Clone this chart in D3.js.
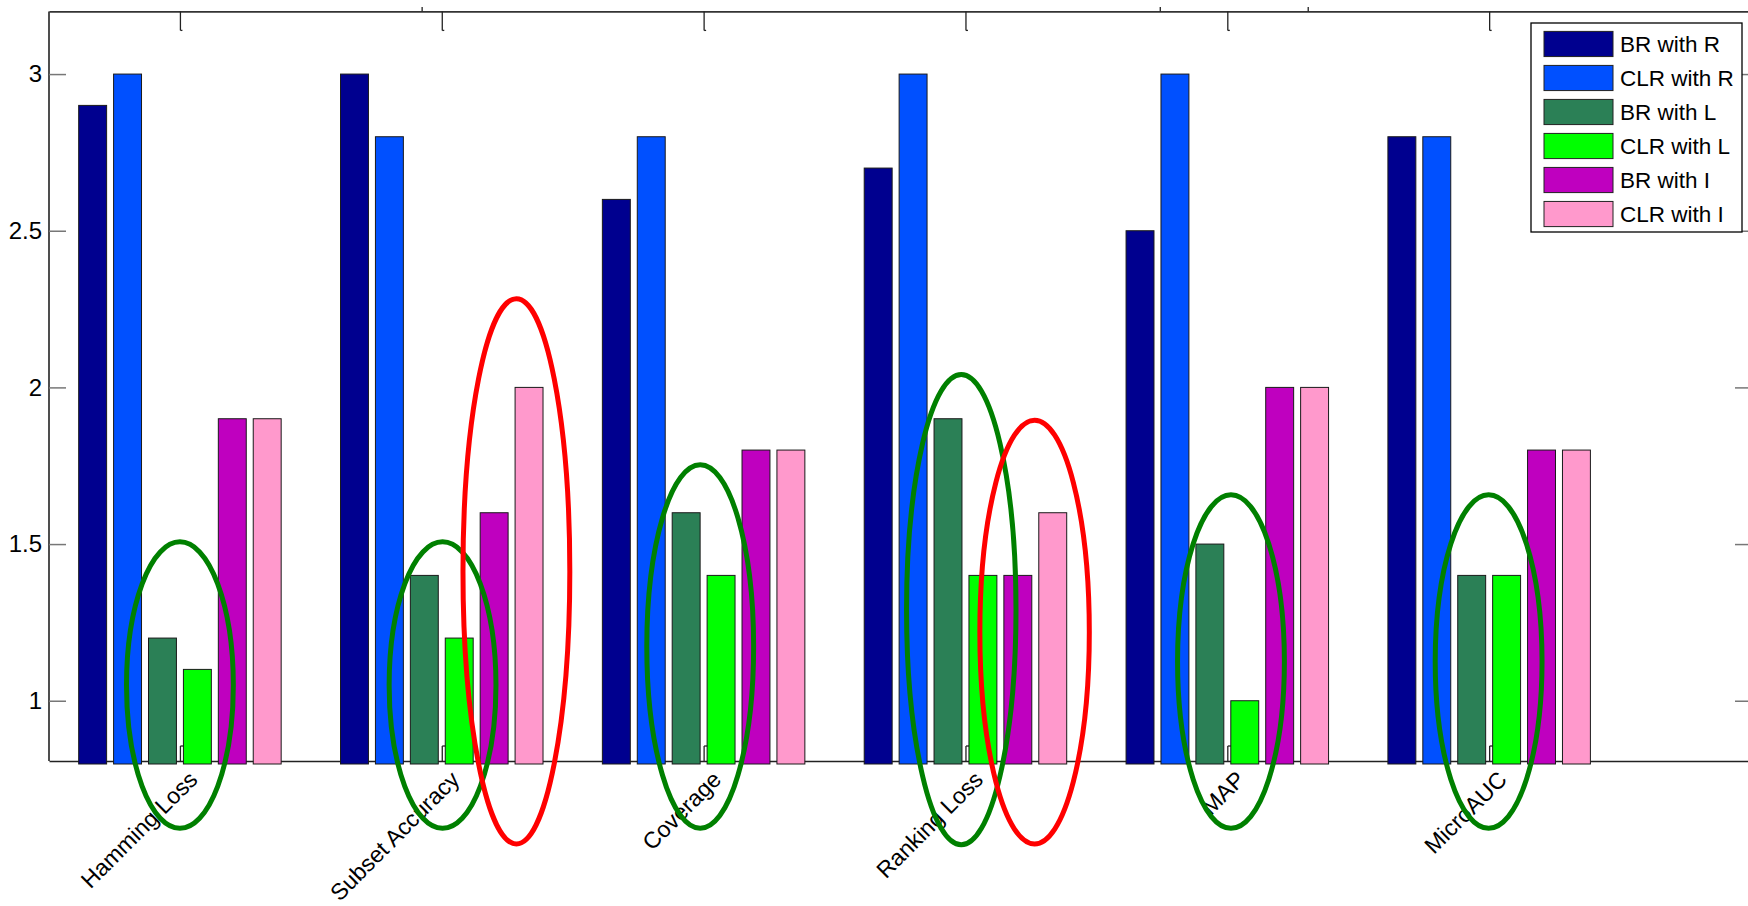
<!DOCTYPE html>
<html>
<head>
<meta charset="utf-8">
<script src="https://cdn.jsdelivr.net/npm/d3@7"></script>
<style>
  body { margin: 0; background: #fff; }
  svg { display: block; font-family: "Liberation Sans", Arial, Helvetica, sans-serif; }
</style>
</head>
<body>
<div id="chart"></div>
<script>
// metric names (x groups)
var categories = ["Hamming Loss", "Subset Accuracy", "Coverage", "Ranking Loss", "MAP", "MicroAUC"];

// series
var seriesNames = ["BR with R", "CLR with R", "BR with L", "CLR with L", "BR with I", "CLR with I"];
var seriesColors = ["#00008f", "#0050ff", "#2b8056", "#00ff00", "#bf00bf", "#ff99cc"];

var brR  = [2.9, 3.0, 2.6, 2.7, 2.5, 2.8];
var clrR = [3.0, 2.8, 2.8, 3.0, 3.0, 2.8];
var brL  = [1.2, 1.4, 1.6, 1.9, 1.5, 1.4];
var clrL = [1.1, 1.2, 1.4, 1.4, 1.0, 1.4];
var brI  = [1.9, 1.6, 1.8, 1.4, 2.0, 1.8];
var clrI = [1.9, 2.0, 1.8, 1.6, 2.0, 1.8];

var yTicks = [1, 1.5, 2, 2.5, 3];

// hand drawn ellipses: centre x, top and bottom in data units, half width in x units
var ringX      = [1.0, 2.003, 2.285, 2.987, 3.984, 4.264, 5.014, 5.998];
var ringTop    = [1.507, 1.507, 2.283, 1.753, 2.041, 1.895, 1.657, 1.657];
var ringBottom = [0.593, 0.593, 0.543, 0.593, 0.54, 0.543, 0.593, 0.593];
var ringHalfW  = [0.204, 0.204, 0.204, 0.204, 0.209, 0.209, 0.204, 0.204];
var ringColor  = ["green", "green", "red", "green", "green", "red", "green", "green"];

// stray marks above the top border
var strayMarks = [1.925, 4.744, 5.309];

var values = [brR, clrR, brL, clrL, brI, clrI];

var W = 1748, H = 906;
var svg = d3.select("#chart").append("svg")
	.attr("width", W)
	.attr("height", H);

var x = d3.scaleLinear().domain([0.5, 7]).range([49, 1751]);
var y = d3.scaleLinear().domain([0.8, 3.2]).range([763.4, 11.4]);
var sub = d3.scaleBand().domain(seriesNames).range([-0.4, 0.4])
	.paddingInner(0.2).paddingOuter(0.1);

var groupIdx = categories.map(function(d, i) { return i + 1; });
var axisY = 761;

// top border + hooks
var topAxis = svg.append("g").attr("transform", "translate(0," + y(3.2) + ")")
	.call(d3.axisTop(x).tickValues(groupIdx).tickSize(-19).tickSizeOuter(0).tickFormat(""));
topAxis.selectAll(".tick").append("path").attr("d", "M0,19h2");
topAxis.selectAll("line, path").attr("stroke", "#222").attr("stroke-width", 1.3);
topAxis.select(".domain").attr("stroke", "#333").attr("stroke-width", 1.6);

svg.append("g").selectAll("line")
	.data(strayMarks)
	.enter().append("line")
	.attr("x1", function(d) { return x(d); })
	.attr("x2", function(d) { return x(d); })
	.attr("y1", y(3.2) - 4.5)
	.attr("y2", y(3.2))
	.attr("stroke", "#222")
	.attr("stroke-width", 1.3);

// bottom border + hooks
var bottomAxis = svg.append("g").attr("transform", "translate(0," + axisY + ")")
	.call(d3.axisBottom(x).tickValues(groupIdx).tickSize(-15).tickSizeOuter(0).tickFormat(""));
bottomAxis.selectAll(".tick").append("path").attr("d", "M0,-15h6").attr("fill", "none");
bottomAxis.selectAll("line, path").attr("stroke", "#222").attr("stroke-width", 1.3);
bottomAxis.select(".domain").attr("stroke", "#222").attr("stroke-width", 1.6);

// left axis
var leftAxis = svg.append("g").attr("transform", "translate(" + x(0.5) + ",0)")
	.call(d3.axisLeft(y).tickValues(yTicks).tickSize(-17).tickSizeOuter(0).tickPadding(7)
		.tickFormat(d3.format("")));
leftAxis.select(".domain").attr("d", "M0," + y(3.2) + "V" + axisY)
	.attr("stroke", "#222").attr("stroke-width", 1.6);
leftAxis.selectAll(".tick line").attr("stroke", "#777").attr("stroke-width", 1.5);
leftAxis.selectAll(".tick text")
	.attr("fill", "#000")
	.style("font-size", "24px")
	.style("font-family", "'Liberation Sans', Arial, sans-serif");

// right axis (border itself falls just off the picture)
var rightAxis = svg.append("g").attr("transform", "translate(" + x(7) + ",0)")
	.call(d3.axisRight(y).tickValues(yTicks).tickSize(-16).tickSizeOuter(0).tickFormat(""));
rightAxis.select(".domain").attr("stroke", "#222").attr("stroke-width", 1.6);
rightAxis.selectAll(".tick line").attr("stroke", "#777").attr("stroke-width", 1.5);

// bars
var barW = x(1 + sub.bandwidth()) - x(1);
seriesNames.forEach(function(name, s) {
	svg.append("g")
		.selectAll("rect")
		.data(values[s])
		.enter().append("rect")
		.attr("x", function(d, i) { return x(i + 1 + sub(name)); })
		.attr("y", function(d) { return y(d); })
		.attr("width", barW)
		.attr("height", function(d) { return y(0.8) + 0.6 - y(d); })
		.attr("fill", seriesColors[s])
		.attr("stroke", "#1a1a1a")
		.attr("stroke-width", 1);
});

// rotated metric labels
svg.append("g").selectAll("text")
	.data(categories)
	.enter().append("text")
	.attr("transform", function(d, i) { return "translate(" + (x(i + 1) + 19) + ",781) rotate(-45)"; })
	.attr("text-anchor", "end")
	.style("font-size", "23px")
	.text(function(d) { return d; });

// ellipses
svg.append("g").selectAll("ellipse")
	.data(ringX)
	.enter().append("ellipse")
	.attr("cx", function(d) { return x(d); })
	.attr("cy", function(d, i) { return (y(ringTop[i]) + y(ringBottom[i])) / 2; })
	.attr("rx", function(d, i) { return x(d + ringHalfW[i]) - x(d); })
	.attr("ry", function(d, i) { return (y(ringBottom[i]) - y(ringTop[i])) / 2; })
	.attr("fill", "none")
	.attr("stroke", function(d, i) { return ringColor[i] === "red" ? "#ff0000" : "#008000"; })
	.attr("stroke-width", 5);

// legend
var legend = svg.append("g").attr("transform", "translate(1531,23)");
legend.append("rect")
	.attr("width", 211)
	.attr("height", 209)
	.attr("fill", "#fff")
	.attr("stroke", "#000")
	.attr("stroke-width", 1.3);
var rowY = d3.scaleBand().domain(seriesNames).range([5, 207]).paddingInner(0.26).paddingOuter(0.1);
var item = legend.selectAll(".item")
	.data(seriesNames)
	.enter().append("g")
	.attr("transform", function(d) { return "translate(0," + rowY(d) + ")"; });
item.append("rect")
	.attr("x", 13)
	.attr("width", 69)
	.attr("height", rowY.bandwidth())
	.attr("fill", function(d, i) { return seriesColors[i]; })
	.attr("stroke", "#222")
	.attr("stroke-width", 1);
item.append("text")
	.attr("x", 89)
	.attr("y", rowY.bandwidth() / 2)
	.attr("dy", "0.36em")
	.style("font-size", "22.5px")
	.text(function(d) { return d; });
</script>
</body>
</html>
